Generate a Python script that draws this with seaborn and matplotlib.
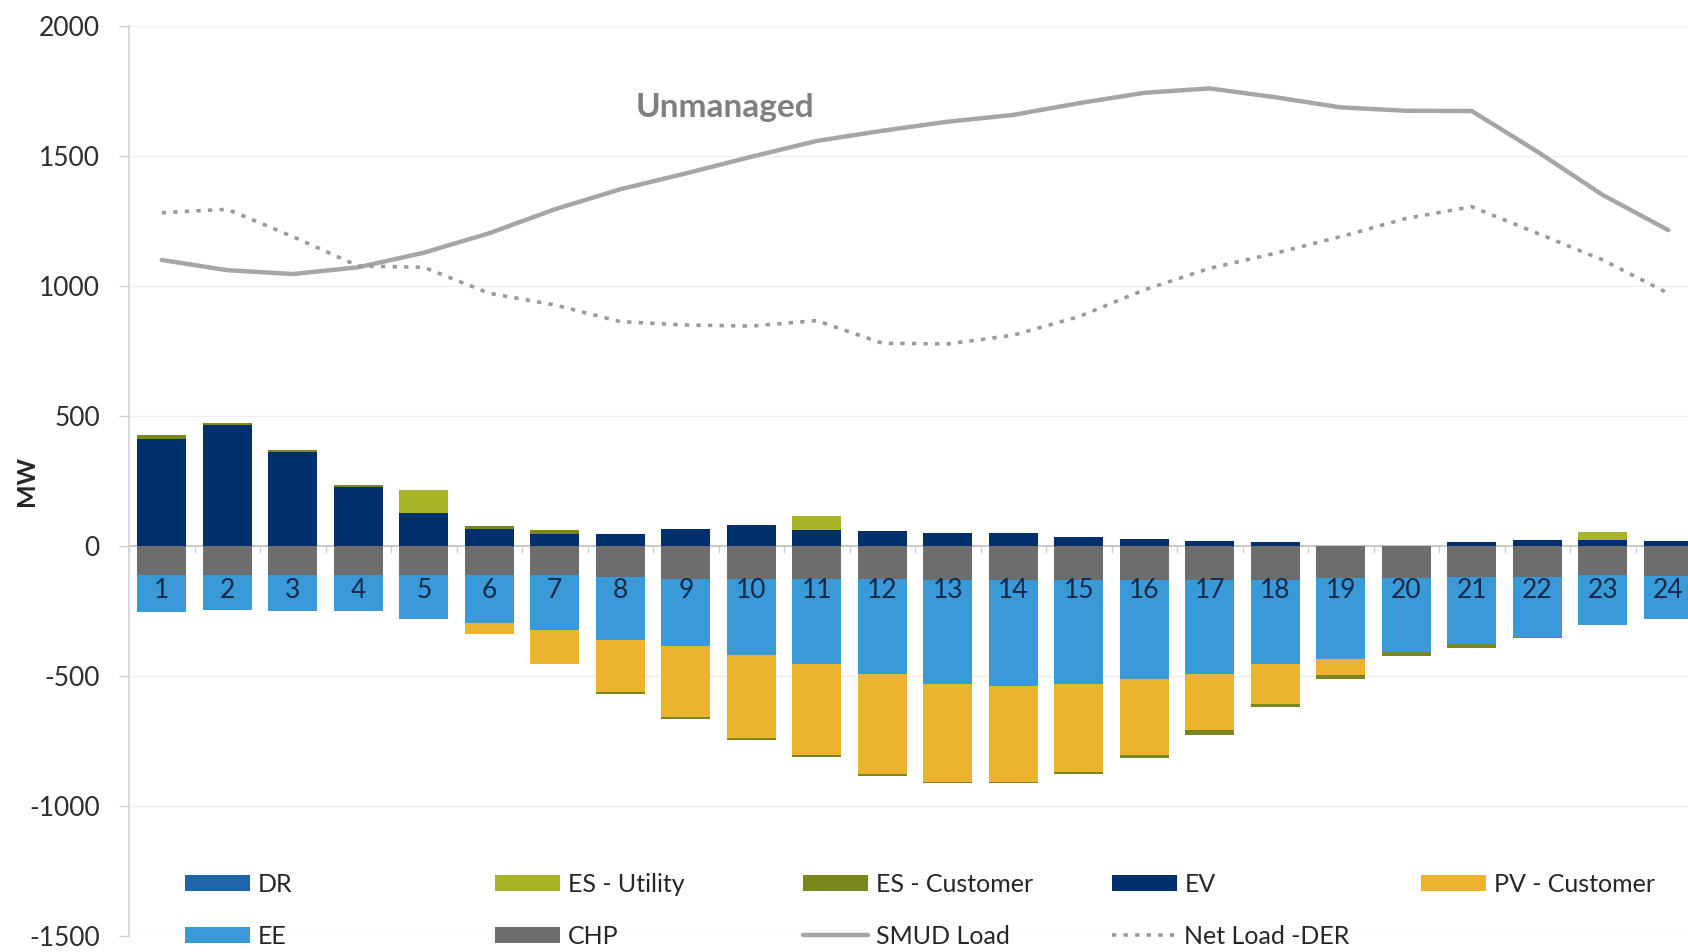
import numpy as np
import matplotlib
matplotlib.use("Agg")
import matplotlib.pyplot as plt
import seaborn as sns

# hourly DER impact (MW)
hours = list(range(1, 25))
dr = [0] * 24
es_utility = [0, 0, 0, 0, 92, 0, 0, 0, 0, 0, 51, 0, 0, 0, 0, 0, 0, 0, 0, 0, 0, 0, 32, 0]
es_customer = [13, 9, 9, 8, 0, 9, 14, -8, -7, -7, -7, -10, -6, -6, -8, -10, -18, -13, -16, -16, -13, -3, 0, 0]
ev = [413, 464, 362, 225, 125, 67, 48, 48, 67, 80, 63, 58, 51, 51, 35, 26, 20, 16, 0, 0, 16, 22, 22, 20]
pv_customer = [0, 0, 0, 0, 0, -44, -130, -200, -272, -320, -352, -385, -377, -366, -339, -294, -217, -152, -64, 0, 0, 0, 0, 0]
ee = [-142, -135, -138, -139, -167, -184, -210, -242, -258, -293, -324, -363, -398, -409, -398, -379, -360, -323, -309, -286, -258, -232, -193, -164]
chp = [-112, -112, -112, -112, -112, -112, -112, -118, -127, -127, -128, -128, -131, -131, -131, -131, -131, -131, -124, -122, -120, -118, -112, -115]

smud_load = [1100, 1061, 1046, 1072, 1128, 1203, 1295, 1372, 1433, 1497, 1558, 1597, 1632, 1658, 1703, 1743, 1760, 1726, 1687, 1674, 1673, 1517, 1350, 1215]
net_load = [1282, 1295, 1190, 1077, 1072, 972, 927, 863, 850, 846, 867, 780, 777, 811, 882, 985, 1068, 1126, 1190, 1260, 1305, 1203, 1100, 972]

series = {
    "DR": (dr, "#1F64A8"),
    "ES - Utility": (es_utility, "#A8B428"),
    "ES - Customer": (es_customer, "#7A871E"),
    "EV": (ev, "#00306B"),
    "PV - Customer": (pv_customer, "#ECB42E"),
    "EE": (ee, "#3A9AD7"),
    "CHP": (chp, "#6D6D6D"),
}
# stacking order outward from zero
stack_order = ["CHP", "EE", "EV", "PV - Customer", "ES - Customer", "ES - Utility", "DR"]

sns.set_theme(style="white")
plt.rcParams["font.family"] = ["Lato", "DejaVu Sans"]
plt.rcParams["axes.unicode_minus"] = False

fig = plt.figure(figsize=(16.88, 9.52), dpi=100)
ax = fig.add_axes([129 / 1688, 1 - 936 / 952, 1572 / 1688, 910 / 952])

x = np.arange(len(hours))
pos_bottom = np.zeros(len(hours))
neg_bottom = np.zeros(len(hours))
for name in stack_order:
    vals, color = series[name]
    vals = np.array(vals, dtype=float)
    pos = np.where(vals > 0, vals, 0)
    neg = np.where(vals < 0, vals, 0)
    ax.bar(x, pos, bottom=pos_bottom, width=0.755, color=color, linewidth=0, label=name, zorder=2)
    ax.bar(x, neg, bottom=neg_bottom, width=0.755, color=color, linewidth=0, zorder=2)
    pos_bottom += pos
    neg_bottom += neg

sns.lineplot(x=x, y=smud_load, ax=ax, color="#A6A6A6", lw=3.2, label="SMUD Load", zorder=4)
sns.lineplot(x=x, y=net_load, ax=ax, color="#9A9A9A", lw=2.6, linestyle=(0, (1.2, 2.0)),
             label="Net Load -DER", zorder=4)
if ax.get_legend() is not None:
    ax.get_legend().remove()

ax.text(8.6, 1688, "Unmanaged", color="#7F7F7F", fontsize=24, fontweight="bold",
        ha="center", va="center")

ax.set_xlim(-0.5, 23.5)
ax.set_ylim(-1500, 2000)
ax.set_yticks(np.arange(-1500, 2001, 500))
ax.yaxis.grid(True, color="#EFEFEF", lw=1)
ax.tick_params(axis="y", labelsize=19, labelcolor="#2E2E2E", length=7, width=1,
               color="#CFCFCF", pad=14, left=True)

ax.set_xticks(np.arange(-0.5, 24, 1))
ax.set_xticklabels([])
ax.set_xticks(x, minor=True)
ax.set_xticklabels([str(h) for h in hours], minor=True)
ax.tick_params(axis="x", which="major", length=5, width=1, color="#CFCFCF", bottom=True)
ax.tick_params(axis="x", which="minor", length=0, labelsize=19, labelcolor="#13294A", pad=23)
ax.spines["bottom"].set_position(("data", 0))
ax.spines["bottom"].set_color("#C4C4C4")
ax.spines["bottom"].set_linewidth(1.3)
ax.spines["bottom"].set_zorder(1)
ax.spines["left"].set_color("#D4D4D4")
ax.spines["top"].set_visible(False)
ax.spines["right"].set_visible(False)
ax.xaxis.set_zorder(3)

fig.text(27 / 1688, 1 - 481 / 952, "MW", rotation=90, fontsize=18, fontweight="bold",
         color="#262626", ha="center", va="center")

handles, labels = ax.get_legend_handles_labels()
lookup = dict(zip(labels, handles))
columns = [["DR", "EE"], ["ES - Utility", "CHP"], ["ES - Customer", "SMUD Load"],
           ["EV", "Net Load -DER"], ["PV - Customer"]]
col_left = [185, 495, 803, 1112, 1421]
for names, left in zip(columns, col_left):
    leg = fig.legend([lookup[n] for n in names], names, loc="upper left",
                     bbox_to_anchor=(left / 1688, 1 - 873 / 952), frameon=False,
                     fontsize=18, handlelength=2.6, handleheight=0.6, handletextpad=0.3,
                     labelspacing=1.15, borderpad=0, borderaxespad=0)
    for t in leg.get_texts():
        t.set_color("#262626")

fig.savefig("out.png", dpi=100)
